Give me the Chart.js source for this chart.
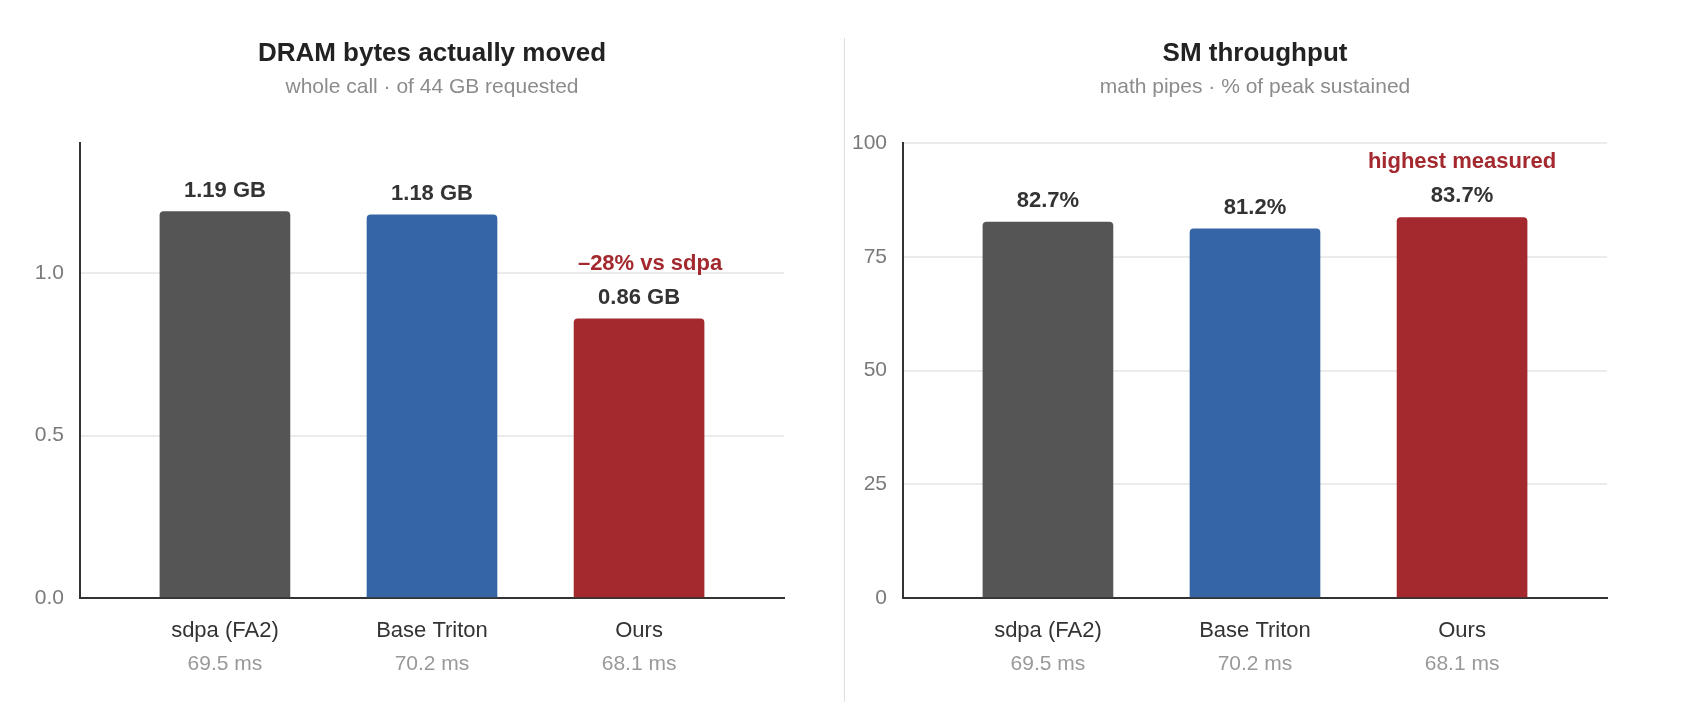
<!DOCTYPE html>
<html>
<head>
<meta charset="utf-8">
<script src="https://cdn.jsdelivr.net/npm/chart.js@4.4.1/dist/chart.umd.min.js"></script>
<style>
  html, body { margin: 0; padding: 0; background: #fff; }
  .panel { position: absolute; top: 0; width: 845px; height: 706px; }
  #left { left: 0; }
  #right { left: 845px; }
  .divider { position: absolute; left: 844px; top: 38px; width: 1px; height: 664px; background: #dedede; }
</style>
</head>
<body>
<div class="panel" id="left"><canvas id="dram-chart"></canvas></div>
<div class="divider"></div>
<div class="panel" id="right"><canvas id="sm-chart"></canvas></div>
<script>
// data

const categories = ["sdpa (FA2)", "Base Triton", "Ours"];
const latencyMs = [69.5, 70.2, 68.1];
const dramGB = [1.19, 1.18, 0.86];
const smPct = [82.7, 81.2, 83.7];
const dramTicks = [0, 0.5, 1.0];
const smTicks = [0, 25, 50, 75, 100];
const dramNotes = ["", "", "\u201328% vs sdpa"];
const smNotes = ["", "", "highest measured"];

const barColors = ['#555555', '#3565a5', '#a3292f'];
const family = '"Liberation Sans", Arial, Helvetica, sans-serif';

Chart.defaults.font.family = family;

// value labels over bars, red notes, and the grey "ms" line under each category
const barLabels = {
    id: 'barLabels',
    afterDatasetsDraw(chart, args, opts) {
        const ctx = chart.ctx;
        const meta = chart.getDatasetMeta(0);
        const values = chart.data.datasets[0].data;
        ctx.save();
        ctx.textAlign = 'center';
        ctx.textBaseline = 'alphabetic';
        meta.data.forEach((bar, i) => {
            ctx.font = 'bold 22px ' + family;
            ctx.fillStyle = '#333333';
            ctx.fillText(opts.format(values[i].y), bar.x, bar.y - 15);
            if (opts.notes[i]) {
                ctx.fillStyle = '#a3292f';
                ctx.fillText(opts.notes[i], bar.x + opts.noteDx, bar.y - 49);
            }
        });
        const xs = chart.scales.x;
        ctx.font = '21px ' + family;
        ctx.fillStyle = '#999999';
        latencyMs.forEach((ms, i) => {
            ctx.fillText(ms.toFixed(1) + ' ms', xs.getPixelForValue(i), xs.top + 72);
        });
        ctx.restore();
    }
};

function makeChart(canvas, values, cfg) {
    return new Chart(canvas, {
        type: 'bar',
        data: {
            datasets: [{
                data: values.map((v, i) => ({ x: i, y: v })),
                backgroundColor: barColors,
                borderRadius: { topLeft: 4, topRight: 4 },
                barThickness: 130
            }]
        },
        plugins: [barLabels],
        options: {
            responsive: true,
            maintainAspectRatio: false,
            animation: false,
            events: [],
            layout: { padding: { left: 0, right: cfg.padRight, top: 0, bottom: 62 } },
            scales: {
                x: {
                    type: 'linear',
                    offset: false,
                    min: -0.7,
                    max: 2.7,
                    afterBuildTicks: s => { s.ticks = categories.map((c, i) => ({ value: i })); },
                    afterFit: s => { s.height = 46; },
                    grid: { display: false, drawTicks: false },
                    border: { display: true, color: '#333333', width: 2 },
                    ticks: {
                        padding: 20,
                        color: '#333333',
                        font: { size: 22 },
                        autoSkip: false,
                        maxRotation: 0,
                        callback: v => categories[v]
                    }
                },
                y: {
                    min: 0,
                    max: cfg.max,
                    afterBuildTicks: s => { s.ticks = cfg.ticks.map(v => ({ value: v })); },
                    afterFit: s => { s.width = cfg.axisWidth; },
                    grid: {
                        drawTicks: false,
                        lineWidth: 2,
                        color: c => (c.tick && c.tick.value === 0) ? 'rgba(0,0,0,0)' : '#ebebeb'
                    },
                    border: { display: true, color: '#333333', width: 2 },
                    ticks: {
                        padding: 16,
                        color: '#7a7a7a',
                        font: { size: 21 },
                        callback: cfg.tickFormat
                    }
                }
            },
            plugins: {
                legend: { display: false },
                tooltip: { enabled: false },
                title: {
                    display: true,
                    text: cfg.title,
                    fullSize: false,
                    color: '#222222',
                    font: { size: 26, weight: 'bold' },
                    padding: { top: 38, bottom: 0 }
                },
                subtitle: {
                    display: true,
                    text: cfg.subtitle,
                    fullSize: false,
                    color: '#8c8c8c',
                    font: { size: 21 },
                    padding: { top: 5, bottom: 44 }
                },
                barLabels: { format: cfg.format, notes: cfg.notes, noteDx: cfg.noteDx }
            }
        }
    });
}

let dramChart = makeChart(document.getElementById('dram-chart'), dramGB, {
    title: 'DRAM bytes actually moved',
    subtitle: 'whole call \u00b7 of 44 GB requested',
    max: 1.4,
    ticks: dramTicks,
    tickFormat: v => v.toFixed(1),
    format: v => v.toFixed(2) + ' GB',
    notes: dramNotes,
    noteDx: 11,
    axisWidth: 80,
    padRight: 61
});

let smChart = makeChart(document.getElementById('sm-chart'), smPct, {
    title: 'SM throughput',
    subtitle: 'math pipes \u00b7 % of peak sustained',
    max: 100,
    ticks: smTicks,
    tickFormat: v => String(v),
    format: v => v.toFixed(1) + '%',
    notes: smNotes,
    noteDx: 0,
    axisWidth: 58,
    padRight: 83
});
</script>
</body>
</html>
